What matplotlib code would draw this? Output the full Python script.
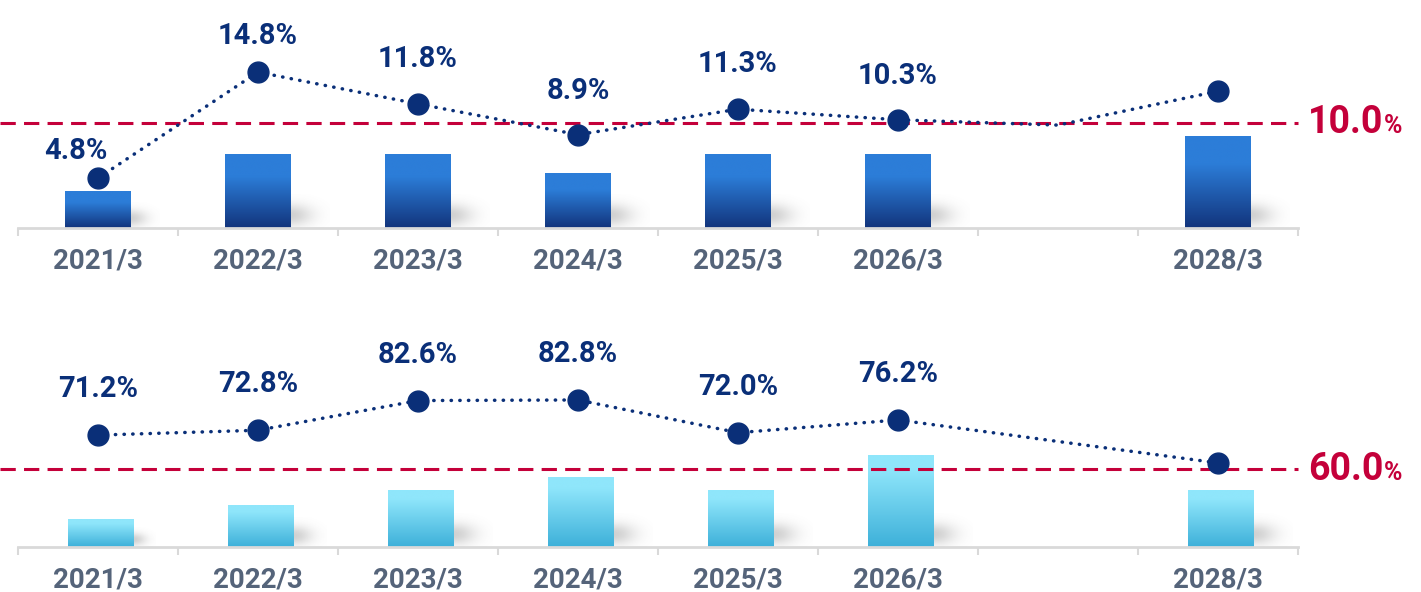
import numpy as np
import matplotlib.pyplot as plt
from matplotlib.colors import to_rgb

plt.rcParams['font.family'] = ['Roboto', 'DejaVu Sans']

periods = ['2021/3', '2022/3', '2023/3', '2024/3', '2025/3', '2026/3', '2027/3', '2028/3']
tick_labels = ['2021/3', '2022/3', '2023/3', '2024/3', '2025/3', '2026/3', '', '2028/3']

# upper panel: bars (relative scale) + ratio line
top_bars = [37, 74, 74, 55, 74, 74, np.nan, 92]
top_rate = [4.8, 14.8, 11.8, 8.9, 11.3, 10.3, 9.8, 13.0]
top_labels = ['4.8%', '14.8%', '11.8%', '8.9%', '11.3%', '10.3%', '', '']
top_target = 10.0

# lower panel
bottom_bars = [28, 42, 57, 70, 57, 91, np.nan, 57]
bottom_rate = [71.2, 72.8, 82.6, 82.8, 72.0, 76.2, np.nan, 62.0]
bottom_labels = ['71.2%', '72.8%', '82.6%', '82.8%', '72.0%', '76.2%', '', '']
bottom_target = 60.0

NAVY = '#0a2f78'
RED = '#c4003a'
AXIS_GREY = '#d9d9d9'
TICK_TXT = '#55647a'

W, H = 1421, 592


def gradient(top, bottom, n=200, knee=0.0):
    t = np.linspace(0, 1, n)
    t = np.clip((t - knee) / (1 - knee), 0, 1)
    c0, c1 = np.array(to_rgb(top)), np.array(to_rgb(bottom))
    return (c0[None, :] * (1 - t[:, None]) + c1[None, :] * t[:, None])[:, None, :]


def shadow_img(n=60):
    yy, xx = np.mgrid[0:1:n * 1j, 0:1:n * 1j]
    a = 0.30 * np.exp(-(xx / 0.55) ** 2 - ((yy - 0.38) / 0.33) ** 2)
    img = np.zeros((n, n, 4))
    img[..., :3] = 0.4
    img[..., 3] = a
    return img


def draw_panel(top_px, base_px, bars, rates, labels, target, rate_lim,
               grad, bar_shift, offsets):
    x = np.arange(len(periods))
    bars = np.array(bars, dtype=float)
    rates = np.array(rates, dtype=float)

    ax = fig.add_axes([18 / W, 1 - base_px / H, 1280 / W, (base_px - top_px) / H])
    bc = ax.bar(x + bar_shift, bars, width=0.41, color='none', zorder=2)
    for r in bc:
        h = r.get_height()
        if np.isnan(h):
            continue
        x0, w = r.get_x(), r.get_width()
        ax.imshow(grad, extent=[x0, x0 + w, 0, h], aspect='auto', zorder=2,
                  interpolation='bilinear')
        sh = min(34, 0.7 * h)
        ax.imshow(shadow_img(), extent=[x0 + w, x0 + w + 0.24 * min(1, h / 50), 0, sh],
                  aspect='auto', zorder=1, origin='lower', interpolation='bilinear')

    ax.set_xlim(-0.5, 7.5)
    ax.set_ylim(0, base_px - top_px)
    for s in ['top', 'left', 'right']:
        ax.spines[s].set_visible(False)
    ax.spines['bottom'].set_color(AXIS_GREY)
    ax.spines['bottom'].set_linewidth(2)
    ax.set_yticks([])
    ax.set_xticks(np.arange(-0.5, 8.0, 1.0))
    ax.set_xticklabels([])
    ax.tick_params(axis='x', which='major', length=6, width=1.5, color=AXIS_GREY)
    ax.set_xticks(x, tick_labels, minor=True)
    ax.tick_params(axis='x', which='minor', length=0, pad=14, labelsize=20,
                   labelcolor=TICK_TXT)
    for t in ax.get_xticklabels(minor=True):
        t.set_fontweight('bold')

    ax2 = ax.twinx()
    ax2.set_ylim(*rate_lim)
    ax2.set_yticks([])
    for s in ax2.spines.values():
        s.set_visible(False)

    ax2.plot([-18 / 1280, 1.0], [target, target], transform=ax2.get_yaxis_transform(),
             color=RED, lw=2.2, ls=(0, (5, 2.7)), clip_on=False, zorder=3)
    t = ax2.annotate(f'{target:.1f}', xy=(1.0, target), xycoords=ax2.get_yaxis_transform(),
                     xytext=(10, 0), textcoords='offset pixels', ha='left', va='center',
                     fontsize=27, fontweight='bold', color=RED, annotation_clip=False)
    ax2.annotate('%', xy=(1, 0), xycoords=t, xytext=(1, 3), textcoords='offset pixels',
                 ha='left', va='bottom', fontsize=18, fontweight='bold', color=RED)

    ok = ~np.isnan(rates)
    ax2.plot(x[ok], rates[ok], color=NAVY, lw=2.5, ls=(0, (0.1, 2.4)),
             dash_capstyle='round', zorder=4)
    mk = ok & ~np.isnan(bars)
    ax2.plot(x[mk], rates[mk], 'o', color=NAVY, ms=15, zorder=5)

    for i, lab in enumerate(labels):
        if lab:
            dx, dy = offsets[i]
            ax2.annotate(lab, (x[i], rates[i]), xytext=(dx, dy), textcoords='offset pixels',
                         ha='center', va='center', fontsize=21, fontweight='bold',
                         color=NAVY)


fig = plt.figure(figsize=(W / 100, H / 100), dpi=100)

top_offsets = [(-22, 27), (0, 36), (0, 45), (0, 44), (0, 45), (0, 44), (0, 0), (0, 0)]
bottom_offsets = [(0, 46)] * 8

draw_panel(0, 228, top_bars, top_rate, top_labels, top_target, (0.094, 21.6),
           gradient('#2c7dd8', '#12347c', knee=0.3), 0.0, top_offsets)
draw_panel(300, 547, bottom_bars, bottom_rate, bottom_labels, bottom_target, (34.26, 115.8),
           gradient('#8fe6fb', '#3db0d9', knee=0.15), 0.02, bottom_offsets)

fig.savefig('out.png', dpi=100)
